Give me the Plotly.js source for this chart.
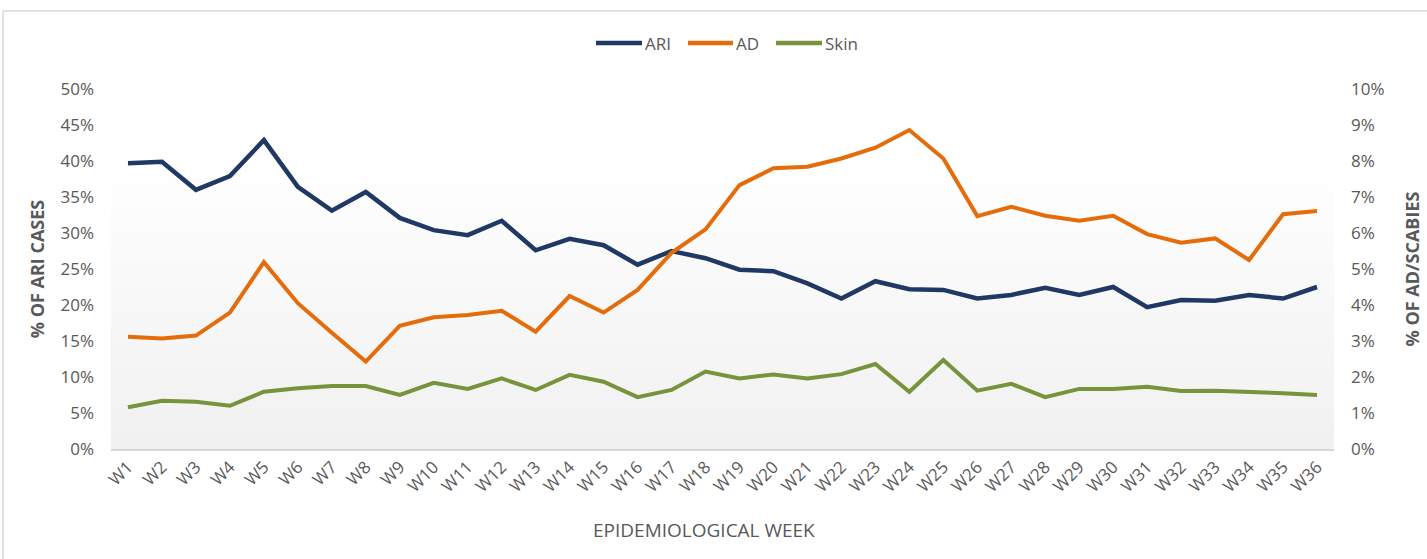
<!DOCTYPE html>
<html>
<head>
<meta charset="utf-8">
<script src="https://cdn.plot.ly/plotly-3.0.1.min.js"></script>
<style>html,body{margin:0;padding:0;background:#fff;}#chart{width:1427px;height:559px;}</style>
</head>
<body>
<div id="chart"></div>
<script>
var weeks = ["W1","W2","W3","W4","W5","W6","W7","W8","W9","W10","W11","W12","W13","W14","W15","W16","W17","W18","W19","W20","W21","W22","W23","W24","W25","W26","W27","W28","W29","W30","W31","W32","W33","W34","W35","W36"];
var ari = [39.7,39.9,36.0,37.9,42.9,36.4,33.1,35.7,32.1,30.4,29.7,31.7,27.6,29.2,28.3,25.6,27.5,26.5,24.9,24.7,23.0,20.9,23.3,22.2,22.1,20.9,21.4,22.4,21.4,22.5,19.7,20.7,20.6,21.4,20.9,22.5];
var ad = [3.12,3.07,3.15,3.79,5.19,4.05,3.23,2.43,3.42,3.66,3.72,3.84,3.26,4.25,3.79,4.42,5.45,6.10,7.33,7.80,7.84,8.07,8.37,8.86,8.07,6.47,6.73,6.48,6.34,6.48,5.97,5.73,5.85,5.25,6.52,6.61];
var skin = [1.16,1.34,1.31,1.20,1.59,1.69,1.75,1.75,1.50,1.84,1.67,1.96,1.64,2.06,1.87,1.44,1.64,2.15,1.96,2.07,1.96,2.08,2.36,1.59,2.47,1.62,1.81,1.44,1.67,1.67,1.73,1.61,1.62,1.59,1.55,1.50];
var seriesNames = ["ARI","AD","Skin"];
var seriesColors = ["#1f3864","#e46c0a","#77933c"];

var toFrac = function(a){ return a.map(function(v){ return v/100; }); };

var FONT = "Open Sans, sans-serif";
var GREY = "#595959";
var L = 111, R = 1334, T = 89, B = 449;
var W = R - L, H = B - T;
var px = function(x){ return (x - L) / W; };
var py = function(y){ return (B - y) / H; };

var traces = [
  {x: weeks, y: toFrac(ari), name: seriesNames[0], type: "scatter", mode: "lines", yaxis: "y",
   line: {color: seriesColors[0], width: 4.5}},
  {x: weeks, y: toFrac(ad), name: seriesNames[1], type: "scatter", mode: "lines", yaxis: "y2",
   line: {color: seriesColors[1], width: 4}},
  {x: weeks, y: toFrac(skin), name: seriesNames[2], type: "scatter", mode: "lines", yaxis: "y2",
   line: {color: seriesColors[2], width: 4}}
];

// gradient background strips (style only)
var shapes = [];
var nStrips = 28;
var gTop = py(170);
for (var i = 0; i < nStrips; i++) {
  var y0 = gTop * i / nStrips, y1 = gTop * (i + 1) / nStrips + 0.002;
  var t = i / (nStrips - 1);
  var c = Math.round(241 + (254 - 241) * t);
  shapes.push({type: "rect", xref: "paper", yref: "paper", x0: 0, x1: 1, y0: y0, y1: Math.min(y1, gTop),
    fillcolor: "rgb(" + c + "," + c + "," + c + ")", line: {width: 0}, layer: "below"});
}
// outer border
shapes.push({type: "rect", xref: "paper", yref: "paper",
  x0: px(3), x1: px(1440), y0: py(570), y1: py(11),
  line: {color: "#d9d9d9", width: 1.5}, fillcolor: "rgba(0,0,0,0)", layer: "below"});

// legend (drawn as keys + text)
var legendLineX = [[596, 642], [688, 733], [776, 822]];
var annotations = [];
for (var k = 0; k < 3; k++) {
  shapes.push({type: "line", xref: "paper", yref: "paper",
    x0: px(legendLineX[k][0]), x1: px(legendLineX[k][1]), y0: py(43), y1: py(43),
    line: {color: seriesColors[k], width: 4.5}});
  annotations.push({xref: "paper", yref: "paper", x: px(legendLineX[k][1] + 1), y: py(43),
    xanchor: "left", yanchor: "middle", showarrow: false, text: seriesNames[k],
    font: {family: FONT, size: 17, color: GREY}});
}
// x-axis title
annotations.push({xref: "paper", yref: "paper", x: px(704), y: py(530), xanchor: "center", yanchor: "middle",
  showarrow: false, text: "EPIDEMIOLOGICAL WEEK", font: {family: FONT, size: 19, color: GREY}});

var layout = {
  width: 1427, height: 559,
  margin: {l: L, r: 1427 - R, t: T, b: 559 - B, pad: 0},
  paper_bgcolor: "#ffffff", plot_bgcolor: "rgba(0,0,0,0)",
  font: {family: FONT, color: GREY, size: 15},
  showlegend: false,
  xaxis: {type: "category", range: [-0.5, 35.5], tickangle: -45, showgrid: false, zeroline: false,
    showline: true, linecolor: "#d9d9d9", linewidth: 1.5, ticks: "",
    tickfont: {family: FONT, size: 17, color: GREY},
    automargin: false},
  yaxis: {range: [0, 0.5], dtick: 0.05, tick0: 0, tickformat: ".0%", showgrid: false, zeroline: false,
    showline: false, ticks: "", ticklabelstandoff: 16,
    tickfont: {family: FONT, size: 17, color: GREY},
    title: {text: "<b>% OF ARI CASES</b>", font: {family: FONT, size: 18, color: GREY}, standoff: 11},
    automargin: false},
  yaxis2: {range: [0, 0.1], dtick: 0.01, tick0: 0, tickformat: ".0%", overlaying: "y", side: "right",
    showgrid: false, zeroline: false, showline: false, ticks: "", ticklabelstandoff: 16,
    tickfont: {family: FONT, size: 17, color: GREY},
    title: {text: "<b>% OF AD/SCABIES</b>", font: {family: FONT, size: 18, color: GREY}, standoff: 22},
    automargin: false},
  shapes: shapes,
  annotations: annotations
};

Plotly.newPlot("chart", traces, layout, {displayModeBar: false, staticPlot: true});
</script>
</body>
</html>
